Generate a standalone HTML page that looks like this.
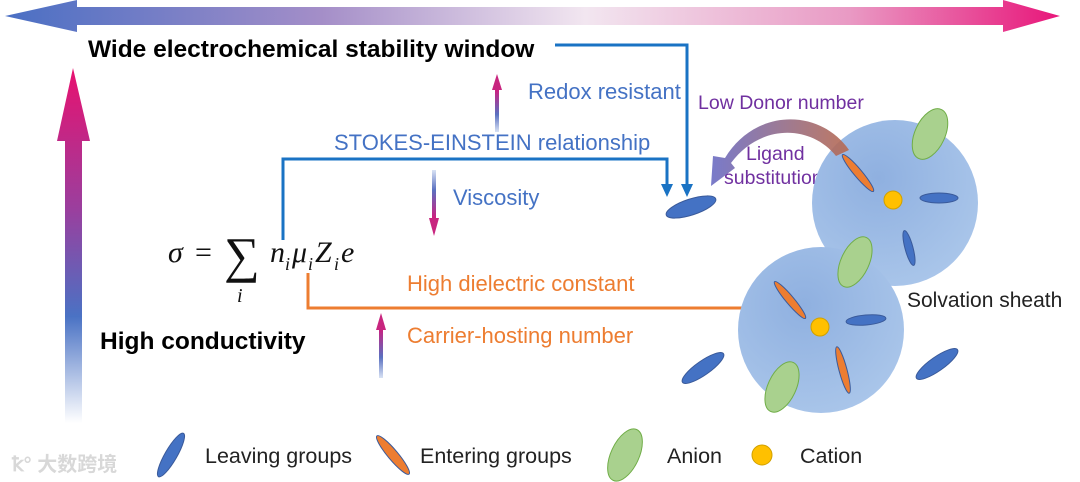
<!DOCTYPE html>
<html><head><meta charset="utf-8"><style>
html,body{margin:0;padding:0;background:#fff;width:1080px;height:482px;overflow:hidden}
svg text{font-family:"Liberation Sans",sans-serif}
svg text.m{font-family:"Liberation Serif",serif}
</style></head><body>
<svg width="1080" height="482" viewBox="0 0 1080 482" xmlns="http://www.w3.org/2000/svg">
<defs>
<linearGradient id="gt" x1="0" x2="1" y1="0" y2="0">
<stop offset="0" stop-color="#4a6fc4"/><stop offset="0.3" stop-color="#a48ec8"/><stop offset="0.55" stop-color="#f2e6f0"/><stop offset="0.8" stop-color="#e99ac4"/><stop offset="1" stop-color="#e8167a"/></linearGradient>
<linearGradient id="gv" x1="0" x2="0" y1="1" y2="0">
<stop offset="0" stop-color="#ffffff"/><stop offset="0.3" stop-color="#4a72c4"/><stop offset="0.6" stop-color="#9a3f9e"/><stop offset="1" stop-color="#e8116f"/></linearGradient>
<linearGradient id="gu" x1="0" x2="0" y1="1" y2="0">
<stop offset="0" stop-color="#d8e2f4"/><stop offset="0.4" stop-color="#5a70c0"/><stop offset="1" stop-color="#d6187a"/></linearGradient>
<linearGradient id="gd" x1="0" x2="0" y1="0" y2="1">
<stop offset="0" stop-color="#d8e2f4"/><stop offset="0.4" stop-color="#5a70c0"/><stop offset="1" stop-color="#d6187a"/></linearGradient>
<radialGradient id="gc" cx="0.4" cy="0.35" r="0.7"><stop offset="0" stop-color="#8fb0e0"/><stop offset="1" stop-color="#aac6ea"/></radialGradient>
<linearGradient id="gcurve" x1="0" x2="1"><stop offset="0" stop-color="#6a6cc4"/><stop offset="1" stop-color="#b86a50"/></linearGradient>
</defs>
<polygon points="5,16 77,0 77,7 1003,7 1003,0 1060,16 1003,32 1003,25 77,25 77,32" fill="url(#gt)"/>
<polygon points="73,68 90,141 82,141 82,423 65,423 65,141 57,141" fill="url(#gv)"/>
<text x="88" y="57" font-size="24.5" font-weight="bold" fill="#000">Wide electrochemical stability window</text>
<text x="100" y="349" font-size="24.5" font-weight="bold" fill="#000">High conductivity</text>
<g fill="#111">
<text class="m" x="168" y="262" font-size="30" font-style="italic">σ</text>
<text class="m" x="195" y="262" font-size="30">=</text>
<text class="m" x="224" y="272" font-size="50">∑</text>
<text class="m" x="237" y="302" font-size="20" font-style="italic">i</text>
<text class="m" x="270" y="262" font-size="30" font-style="italic">n</text><text class="m" x="285" y="270" font-size="18" font-style="italic">i</text>
<text class="m" x="292" y="262" font-size="30" font-style="italic">μ</text><text class="m" x="308" y="270" font-size="18" font-style="italic">i</text>
<text class="m" x="315" y="262" font-size="30" font-style="italic">Z</text><text class="m" x="334" y="270" font-size="18" font-style="italic">i</text>
<text class="m" x="341" y="262" font-size="30" font-style="italic">e</text>
</g>
<g stroke="#1a73c4" stroke-width="3" fill="none">
<polyline points="555,45 687,45 687,186"/>
<polyline points="283,240 283,159 667,159 667,186"/>
</g>
<polygon points="681,184 693,184 687,197" fill="#1a73c4"/>
<polygon points="661,184 673,184 667,197" fill="#1a73c4"/>
<polyline points="308,273 308,308 760,308" stroke="#ed7d31" stroke-width="3" fill="none"/>
<polygon points="758,302 772,308 758,314" fill="#ed7d31"/>
<rect x="495" y="88" width="4" height="44" fill="url(#gu)"/><polygon points="492,90 502,90 497,74" fill="#c8257f"/>
<rect x="432" y="170" width="4" height="50" fill="url(#gd)"/><polygon points="429,218 439,218 434,236" fill="#c8257f"/>
<rect x="379" y="326" width="4" height="52" fill="url(#gu)"/><polygon points="376,330 386,330 381,313" fill="#c8257f"/>
<g font-size="22">
<text x="528" y="99" fill="#4472c4">Redox resistant</text>
<text x="334" y="150" fill="#4472c4">STOKES-EINSTEIN relationship</text>
<text x="453" y="205" fill="#4472c4">Viscosity</text>
<text x="407" y="291" fill="#ed7d31">High dielectric constant</text>
<text x="407" y="343" fill="#ed7d31">Carrier-hosting number</text>
</g>
<text x="698" y="109" font-size="19.5" fill="#7030a0">Low Donor number</text>
<text x="746" y="160" font-size="19.5" fill="#7030a0">Ligand</text>
<text x="724" y="184" font-size="19.5" fill="#7030a0">substitution</text>
<circle cx="895" cy="203" r="83" fill="url(#gc)"/>
<circle cx="821" cy="330" r="83" fill="url(#gc)"/>
<path d="M849,150 C820,108 755,108 725,158 L713,156 L711,186 L735,168 L731,163 C760,124 810,124 836,156 Z" fill="url(#gcurve)" opacity="0.9"/>
<g stroke="#3a5a9a" stroke-width="1">
<ellipse cx="691" cy="207" rx="26" ry="8" transform="rotate(-18 691 207)" fill="#4472c4"/>
<ellipse cx="930" cy="134" rx="15" ry="27" transform="rotate(25 930 134)" fill="#a9d18e" stroke="#70ad47"/>
<ellipse cx="858" cy="173" rx="4" ry="24" transform="rotate(-40 858 173)" fill="#ed7d31"/>
<ellipse cx="939" cy="198" rx="19" ry="5" fill="#4472c4"/>
<ellipse cx="909" cy="248" rx="4" ry="18" transform="rotate(-15 909 248)" fill="#4472c4"/>
<ellipse cx="855" cy="262" rx="14" ry="27" transform="rotate(25 855 262)" fill="#a9d18e" stroke="#70ad47"/>
<ellipse cx="790" cy="300" rx="4" ry="24" transform="rotate(-40 790 300)" fill="#ed7d31"/>
<ellipse cx="866" cy="320" rx="20" ry="5" transform="rotate(-5 866 320)" fill="#4472c4"/>
<ellipse cx="843" cy="370" rx="4" ry="24" transform="rotate(-15 843 370)" fill="#ed7d31"/>
<ellipse cx="782" cy="387" rx="14" ry="27" transform="rotate(25 782 387)" fill="#a9d18e" stroke="#70ad47"/>
<ellipse cx="703" cy="368" rx="7" ry="25" transform="rotate(55 703 368)" fill="#4472c4"/>
<ellipse cx="937" cy="364" rx="7" ry="25" transform="rotate(55 937 364)" fill="#4472c4"/>
</g>
<circle cx="893" cy="200" r="9" fill="#ffc000" stroke="#d0a000"/>
<circle cx="820" cy="327" r="9" fill="#ffc000" stroke="#d0a000"/>
<text x="907" y="307" font-size="21" fill="#222">Solvation sheath</text>
<g font-size="21.5" fill="#222">
<ellipse cx="171" cy="455" rx="6" ry="25" transform="rotate(30 171 455)" fill="#4472c4" stroke="#3a5a9a"/>
<text x="205" y="463">Leaving groups</text>
<ellipse cx="393" cy="455" rx="5" ry="25" transform="rotate(-40 393 455)" fill="#ed7d31" stroke="#3a5a9a"/>
<text x="420" y="463">Entering groups</text>
<ellipse cx="625" cy="455" rx="14" ry="28" transform="rotate(25 625 455)" fill="#a9d18e" stroke="#70ad47"/>
<text x="667" y="463">Anion</text>
<circle cx="762" cy="455" r="10" fill="#ffc000" stroke="#d0a000"/>
<text x="800" y="463">Cation</text>
</g>
<text x="12" y="471" font-size="20" fill="#d8d8d8" font-weight="bold">ꝁ° <tspan style="font-family:'Noto Sans CJK SC',sans-serif">大数跨境</tspan></text>
</svg>
</body></html>
